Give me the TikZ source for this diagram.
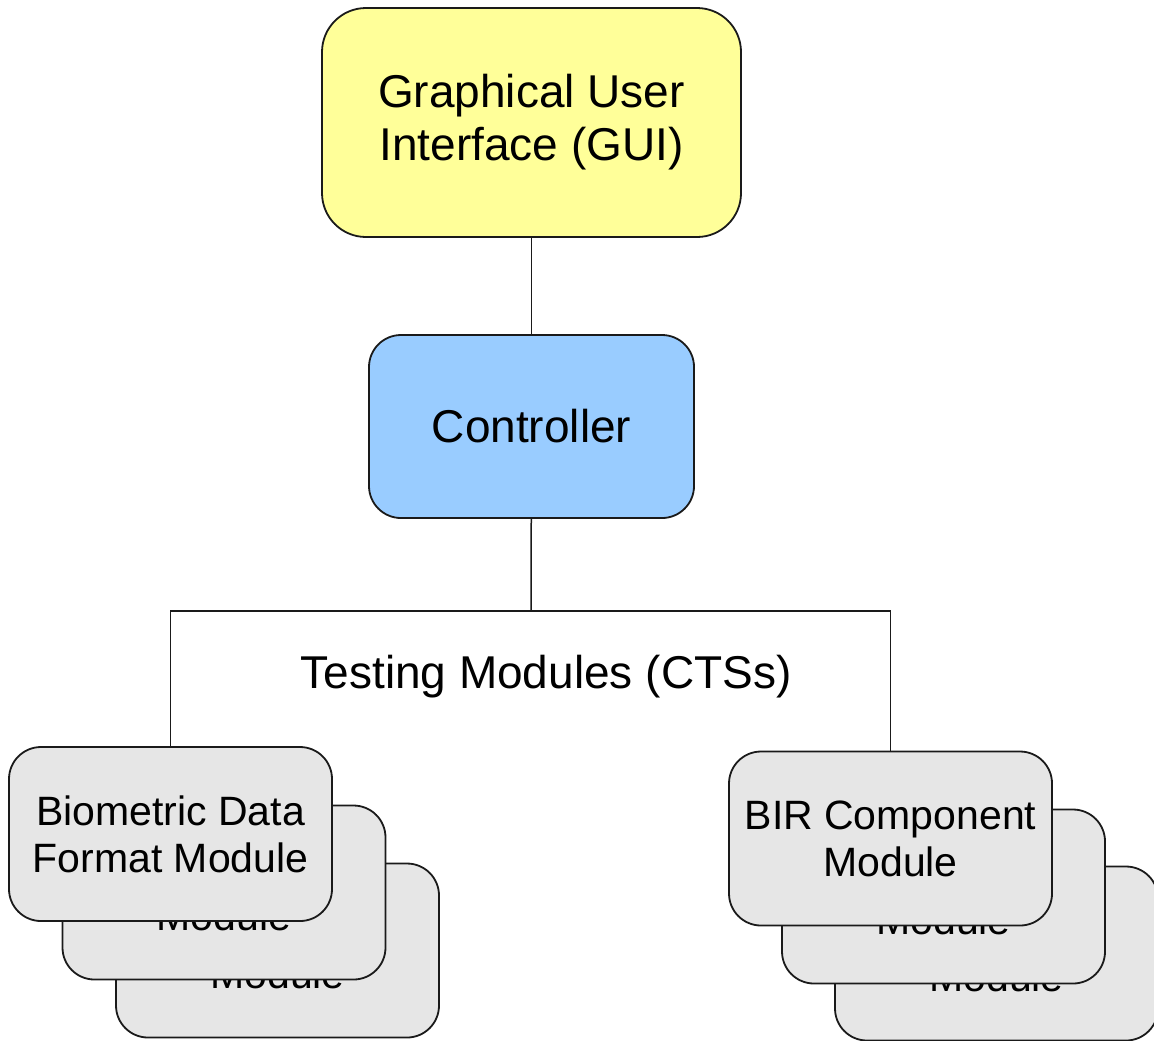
\documentclass[tikz,border=0pt]{standalone}
\usepackage{fontspec}
\setmainfont{Liberation Sans}
\definecolor{guiyellow}{HTML}{FFFF99}
\definecolor{ctrlblue}{HTML}{99CCFF}
\definecolor{modgray}{HTML}{E6E6E6}
\definecolor{edge}{HTML}{1A1A1A}
\newcommand{\backtext}{\vphantom{Biometric}\\Module}
\begin{document}
\begin{tikzpicture}
    [
    x=0.5pt, y=-0.5pt,
    block/.style={rectangle,draw=edge,line width=0.9pt,align=center,inner sep=0pt},
    gui/.style={block,fill=guiyellow,rounded corners=22pt,minimum width=209.5pt,minimum height=114.5pt,font=\fontsize{23}{26.5}\selectfont},
    ctrl/.style={block,fill=ctrlblue,rounded corners=16pt,minimum width=162.5pt,minimum height=91.5pt,font=\fontsize{23}{26.5}\selectfont},
    module/.style={block,fill=modgray,rounded corners=16pt,minimum width=161.5pt,minimum height=87pt,font=\fontsize{20.5}{23.5}\selectfont},
    wire/.style={draw=edge,line width=0.75pt}
    ]
    \useasboundingbox (0,0) rectangle (1154,1040);
    \clip (0,0) rectangle (1154,1040);
    \node (gui) at (531.5,122.5) [gui] {Graphical User\\Interface (GUI)};
    \node (ctrl) at (531.5,426.5) [ctrl] {Controller};
    \coordinate (bus) at (531,611);
    \node (cts) at (546,677) [font=\fontsize{23}{26.5}\selectfont] {Testing Modules (CTSs)};
    % stacked module boxes, back to front
    \node (bdf3) at (277.5,950.5) [module] {\backtext};
    \node (bdf2) at (224,892.5) [module] {\backtext};
    \node (bdf) at (170.5,834) [module] {Biometric Data\\Format Module};
    \node (bir3) at (996.5,953.5) [module] {\backtext};
    \node (bir2) at (943.5,896.5) [module] {\backtext};
    \node (bir) at (890.5,838.5) [module] {BIR Component\\Module};
    \draw [wire] (gui) -- (ctrl);
    \draw [wire] (ctrl) -- (bus);
    \draw [wire] (bdf.north) |- (bus) -| (bir.north);
\end{tikzpicture}
\end{document}
